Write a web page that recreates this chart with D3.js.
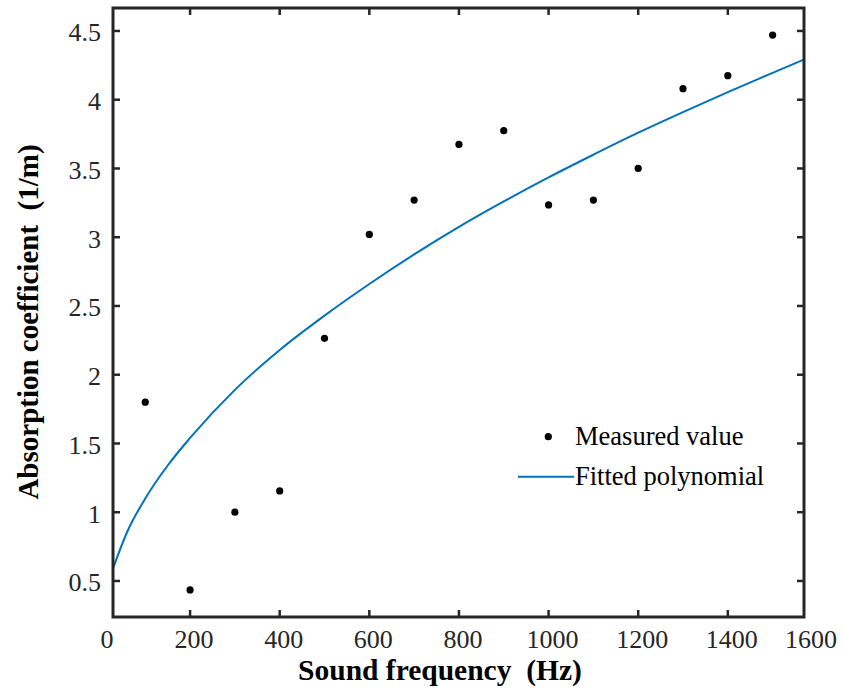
<!DOCTYPE html>
<html>
<head>
<meta charset="utf-8">
<script src="https://cdn.jsdelivr.net/npm/d3@7/dist/d3.min.js"></script>
<style>
  html, body { margin: 0; padding: 0; background: #fff; }
  svg { display: block; }
</style>
</head>
<body>
<svg id="chart" width="845" height="697"></svg>
<script>
// ---- data ----
const frequencies = [100, 200, 300, 400, 500, 600, 700, 800, 900, 1000, 1100, 1200, 1300, 1400, 1500];
const measured    = [1.80, 0.435, 1.00, 1.155, 2.265, 3.02, 3.27, 3.675, 3.775, 3.235, 3.27, 3.50, 4.08, 4.175, 4.47];
const fitFreq  = [29, 60, 100, 150, 200, 300, 400, 500, 600, 700, 800, 900, 1000, 1100, 1200, 1300, 1400, 1500, 1568];
const fitValue = [0.60, 0.86, 1.10, 1.34, 1.54, 1.89, 2.18, 2.43, 2.66, 2.875, 3.075, 3.26, 3.435, 3.60, 3.76, 3.91, 4.055, 4.195, 4.29];
const xTickValues = [0, 200, 400, 600, 800, 1000, 1200, 1400, 1600];
const yTickValues = [0.5, 1, 1.5, 2, 2.5, 3, 3.5, 4, 4.5];
const yTickLabels = ["0.5", "1", "1.5", "2", "2.5", "3", "3.5", "4", "4.5"];
const xTitle = "Sound frequency  (Hz)";
const yTitle = "Absorption coefficient  (1/m)";
const legendLabels = ["Measured value", "Fitted polynomial"];

// ---- layout ----
const X_MIN = 28, X_MAX = 1570, Y_MIN = 0.238, Y_MAX = 4.667;
const pL = 113, pR = 804, pT = 8, pB = 617;
const axisColor = "#262626", lineColor = "#0072BD";
const FONT = "'Liberation Serif', 'Times New Roman', Times, 'DejaVu Serif', serif";

const svg = d3.select("#chart").attr("font-family", FONT);
const x = d3.scaleLinear().domain([X_MIN, X_MAX]).range([pL, pR]);
const y = d3.scaleLinear().domain([Y_MIN, Y_MAX]).range([pB, pT]);

svg.append("defs").append("clipPath").attr("id", "clip")
  .append("rect").attr("x", pL).attr("y", pT).attr("width", pR - pL).attr("height", pB - pT);

// fitted curve
const line = d3.line().x((d, i) => x(fitFreq[i])).y((d, i) => y(fitValue[i])).curve(d3.curveMonotoneX);
svg.append("path").datum(fitValue)
  .attr("d", line).attr("fill", "none").attr("stroke", lineColor).attr("stroke-width", 2)
  .attr("clip-path", "url(#clip)");

// points
svg.append("g").selectAll("circle").data(measured).join("circle")
  .attr("cx", (d, i) => x(frequencies[i])).attr("cy", d => y(d)).attr("r", 3.6).attr("fill", "#000");

// ticks (inward, all four sides)
const tickLen = 7;
const inner = xTickValues.filter(v => v > X_MIN && v < X_MAX);
const g = svg.append("g").attr("stroke", axisColor).attr("stroke-width", 2.5);
inner.forEach(v => {
  g.append("line").attr("x1", x(v)).attr("x2", x(v)).attr("y1", pB).attr("y2", pB - tickLen);
  g.append("line").attr("x1", x(v)).attr("x2", x(v)).attr("y1", pT).attr("y2", pT + tickLen);
});
yTickValues.forEach(v => {
  g.append("line").attr("x1", pL).attr("x2", pL + tickLen).attr("y1", y(v)).attr("y2", y(v));
  g.append("line").attr("x1", pR).attr("x2", pR - tickLen).attr("y1", y(v)).attr("y2", y(v));
});
// box
svg.append("rect").attr("x", pL).attr("y", pT).attr("width", pR - pL).attr("height", pB - pT)
  .attr("fill", "none").attr("stroke", axisColor).attr("stroke-width", 3);

// tick labels
svg.append("g").selectAll("text").data(xTickValues).join("text")
  .attr("font-family", FONT).attr("fill", axisColor)
  .attr("x", v => Math.min(811, Math.max(107, x(v) + 4)))
  .attr("y", 648).attr("text-anchor", "middle").attr("font-size", 26)
  .text(v => String(v));
svg.append("g").selectAll("text").data(yTickValues).join("text")
  .attr("font-family", FONT).attr("fill", axisColor)
  .attr("x", 101).attr("y", v => y(v) + 10.5).attr("text-anchor", "end").attr("font-size", 26)
  .text((v, i) => yTickLabels[i]);

// axis titles
svg.append("text").attr("font-family", FONT).attr("x", 440).attr("y", 680).attr("text-anchor", "middle")
  .attr("font-size", 29.5).attr("font-weight", "bold").style("white-space", "pre").attr("fill", "#000")
  .text(xTitle);
svg.append("text").attr("font-family", FONT).attr("transform", "translate(38,322) rotate(-90)").attr("text-anchor", "middle")
  .attr("font-size", 29).attr("font-weight", "bold").style("white-space", "pre").attr("fill", "#000")
  .text(yTitle);

// legend
const lg = svg.append("g");
lg.append("circle").attr("cx", 548.3).attr("cy", 436.7).attr("r", 3.6).attr("fill", "#000");
lg.append("text").attr("font-family", FONT).attr("x", 575).attr("y", 445).attr("font-size", 26.5).attr("fill", "#000").text(legendLabels[0]);
lg.append("line").attr("x1", 518).attr("x2", 574).attr("y1", 476.7).attr("y2", 476.7)
  .attr("stroke", lineColor).attr("stroke-width", 2);
lg.append("text").attr("font-family", FONT).attr("x", 575).attr("y", 485).attr("font-size", 26.5).attr("fill", "#000").text(legendLabels[1]);
</script>
</body>
</html>
